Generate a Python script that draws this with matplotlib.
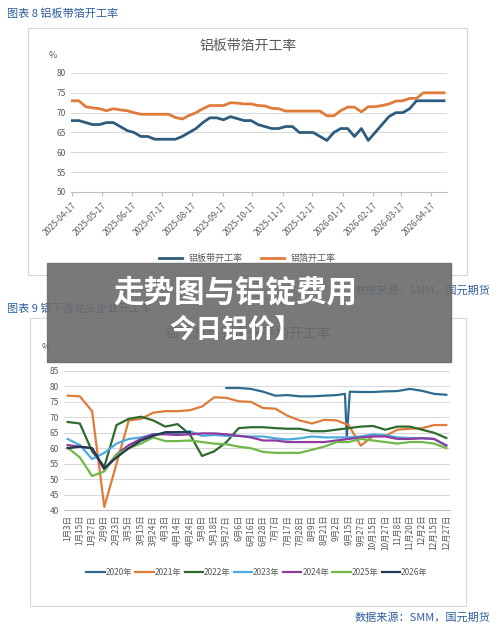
import matplotlib.pyplot as plt
import matplotlib.patches as patches
import numpy as np
import pandas as pd

plt.rcParams['font.family'] = ['Noto Sans CJK SC', 'DejaVu Sans']

# 图表8 数据
sheet_vals = [68, 68, 67.5, 67, 67, 67.5, 67.5, 66.5, 65.5, 65, 64, 64, 63.3, 63.3, 63.3, 63.3, 64, 65, 66,
              67.5, 68.7, 68.7, 68.2, 69, 68.5, 68, 68, 67, 66.5, 66, 66, 66.5, 66.5, 65, 65, 65, 64, 63, 65,
              66, 66, 64, 66, 63, 65, 67, 69, 70, 70, 71, 73, 73, 73, 73, 73]
foil_vals = [73, 73, 71.5, 71.2, 71, 70.5, 71, 70.7, 70.5, 70, 69.6, 69.6, 69.6, 69.6, 69.6, 68.8, 68.4,
             69.3, 70, 71, 71.8, 71.8, 71.8, 72.5, 72.4, 72.2, 72.2, 71.8, 71.7, 71.1, 71, 70.4, 70.4, 70.4,
             70.4, 70.4, 70.4, 69.2, 69.2, 70.5, 71.4, 71.4, 70.2, 71.5, 71.5, 71.8, 72.2, 72.9, 73, 73.6,
             73.6, 75, 75, 75, 75]
month_ticks = pd.date_range('2025-04-01', periods=13, freq='MS') + pd.Timedelta(days=16)

# 图表9 数据
day_labels = ['1月3日', '1月15日', '1月27日', '2月9日', '2月23日', '3月5日', '3月15日', '3月24日', '4月3日',
              '4月14日', '4月24日', '5月8日', '5月18日', '5月27日', '6月6日', '6月16日', '6月28日', '7月7日',
              '7月17日', '7月28日', '8月9日', '8月21日', '9月2日', '9月15日', '9月27日', '10月15日',
              '10月27日', '11月8日', '11月20日', '12月2日', '12月15日', '12月27日']
x2020 = [13, 14, 15, 16, 17, 18, 19, 20, 21, 22, 22.7, 22.85, 23.1, 24, 25, 26, 27, 28, 29, 30, 31]
y2020 = [79.5, 79.5, 79.2, 78.3, 77, 77.2, 76.8, 76.8, 77, 77.2, 77.6, 63.5, 78.3, 78.2, 78.2, 78.4, 78.5,
         79.2, 78.6, 77.6, 77.3]
y2021 = [77, 76.8, 72, 41, 55, 69, 69.5, 71.5, 72, 72, 72.3, 73.5, 76.5, 76.3, 75.2, 75, 73, 72.8, 70.5,
         69, 68, 69.2, 69, 67.5, 60.8, 64, 64, 66, 66.3, 66.5, 67.5, 67.5]
y2022 = [68.5, 68, 59, 54, 67.5, 69.5, 70.2, 69, 67, 67.8, 64.5, 57.5, 59, 62, 66.5, 66.8, 66.8, 66.5, 66.3,
         66.3, 65.5, 65.5, 66, 66.5, 67, 67.2, 66, 67, 67, 66, 65, 63.3]
y2023 = [63, 61, 56.5, 58.5, 61.5, 63, 63.5, 64.5, 64.8, 65, 65.5, 64, 64.3, 64, 64, 63.8, 63.8, 63.2, 62.8,
         63.2, 63.8, 63.5, 63.5, 63.5, 63.8, 64.5, 64.2, 63.5, 63.3, 63.3, 63, 61]
y2024 = [61, 60.5, 60, 53, 58, 61, 63, 64.5, 64.5, 64.3, 64.5, 64.8, 64.8, 64.5, 64, 63.5, 62.5, 62.5, 62,
         62, 62, 62, 62.5, 63, 63.5, 63.8, 63.8, 63, 63, 63.2, 63, 60.8]
y2025 = [60.2, 57, 51, 52.5, 58, 60, 61.5, 63.5, 62.3, 62.3, 62.5, 62, 61.5, 61.3, 60.5, 60, 58.8, 58.5,
         58.5, 58.5, 59.5, 60.5, 62, 62, 63, 62.5, 62, 61.5, 62, 62, 61.5, 60]
y2026 = [60, 60.5, 60, 53.5, 57, 60, 62.5, 64, 65.2, 65.2, 65.2]

W, H = 500, 625
fig = plt.figure(figsize=(5, 6.25), dpi=100)
fig.patch.set_facecolor('white')


def ax_px(l, t, r, b):
    return fig.add_axes([l / W, 1 - b / H, (r - l) / W, (b - t) / H])


def fx(x): return x / W
def fy(y): return 1 - y / H


hdr = '#2E5E9E'
fig.text(fx(7), fy(14), '图表 8 铝板带箔开工率', color=hdr, fontsize=8, va='center')
fig.patches.append(patches.Rectangle((fx(28), fy(275)), (467 - 28) / W, (275 - 28) / H,
                                     transform=fig.transFigure, fill=False, ec='#d9d9d9', lw=0.8))
fig.text(fx(248), fy(46), '铝板带箔开工率', color='#595959', fontsize=10, ha='center', va='center')
fig.text(fx(53), fy(55), '%', color='#595959', fontsize=6.5, ha='center', va='center')

ax1 = ax_px(71, 73, 447, 192)
dates = pd.date_range('2025-04-17', periods=len(sheet_vals), freq='7D')
ax1.plot(dates, sheet_vals, color='#2E5C7F', lw=2, label='铝板带开工率')
ax1.plot(dates, foil_vals, color='#E07B39', lw=2, label='铝箔开工率')
ax1.set_ylim(50, 80)
ax1.set_yticks(range(50, 81, 5))
ax1.set_xlim(dates[0] - pd.Timedelta(days=1), dates[-1] + pd.Timedelta(days=3))
ax1.set_xticks(month_ticks)
ax1.set_xticklabels([d.strftime('%Y-%m-%d') for d in month_ticks], rotation=45, ha='right',
                    rotation_mode='anchor')
ax1.grid(axis='y', color='#d9d9d9', lw=0.7)
for s in ['top', 'right', 'left']:
    ax1.spines[s].set_visible(False)
ax1.spines['bottom'].set_color('#bfbfbf')
ax1.tick_params(labelsize=6, colors='#595959', length=0)
ax1.tick_params(axis='x', length=3, color='#bfbfbf')
ax1.legend(loc='center', bbox_to_anchor=(0.47, -0.56), ncol=2, frameon=False, fontsize=6.5,
           handlelength=2.5, labelcolor='#595959')

fig.text(fx(490), fy(290), '数据来源：SMM，国元期货', color=hdr, fontsize=8, ha='right', va='center')

fig.text(fx(7), fy(308), '图表 9 铝下游龙头企业开工率', color=hdr, fontsize=8, va='center')
fig.patches.append(patches.Rectangle((fx(30), fy(606)), (466 - 30) / W, (606 - 318) / H,
                                     transform=fig.transFigure, fill=False, ec='#d9d9d9', lw=0.8))
fig.text(fx(248), fy(334), '铝下游龙头企业平均开工率', color='#595959', fontsize=10, ha='center', va='center')
fig.text(fx(46), fy(347), '%', color='#595959', fontsize=6.5, ha='center', va='center')

ax2 = ax_px(64, 371, 450, 510)
xi = np.arange(len(day_labels))
ax2.plot(x2020, y2020, color='#2E6A8E', lw=1.6, label='2020年')
ax2.plot(xi, y2021, color='#E07B39', lw=1.6, label='2021年')
ax2.plot(xi, y2022, color='#2F6B2F', lw=1.6, label='2022年')
ax2.plot(xi, y2023, color='#4BACDF', lw=1.6, label='2023年')
ax2.plot(xi, y2024, color='#8E3A9E', lw=1.6, label='2024年')
ax2.plot(xi, y2025, color='#70B84A', lw=1.6, label='2025年')
ax2.plot(xi[:len(y2026)], y2026, color='#1F3A52', lw=1.6, label='2026年')
ax2.set_ylim(40, 85)
ax2.set_yticks(range(40, 86, 5))
ax2.set_xlim(-0.3, 31.3)
ax2.set_xticks(xi)
ax2.set_xticklabels(day_labels, rotation=90, va='top')
ax2.grid(axis='y', color='#d9d9d9', lw=0.7)
for s in ['top', 'right', 'left']:
    ax2.spines[s].set_visible(False)
ax2.spines['bottom'].set_color('#bfbfbf')
ax2.tick_params(labelsize=6, colors='#595959', length=0)
ax2.legend(loc='upper center', bbox_to_anchor=(0.5, -0.36), ncol=7, frameon=False, fontsize=6,
           handlelength=2.2, handletextpad=0.1, columnspacing=0.4, labelcolor='#595959')

fig.text(fx(490), fy(617), '数据来源：SMM，国元期货', color=hdr, fontsize=8, ha='right', va='center')

# 叠加横幅
fig.patches.append(patches.Rectangle((fx(47), fy(362)), (451 - 47) / W, (362 - 263) / H,
                                     transform=fig.transFigure, color='#6b6b6b', alpha=0.9, zorder=10))
fig.text(fx(235), fy(292), '走势图与铝锭费用', color='white', fontsize=22, fontweight='bold',
         ha='center', va='center', zorder=11)
fig.text(fx(235), fy(330), '今日铝价】', color='white', fontsize=19, fontweight='bold',
         ha='center', va='center', zorder=11)

fig.savefig('out.png', dpi=100)
